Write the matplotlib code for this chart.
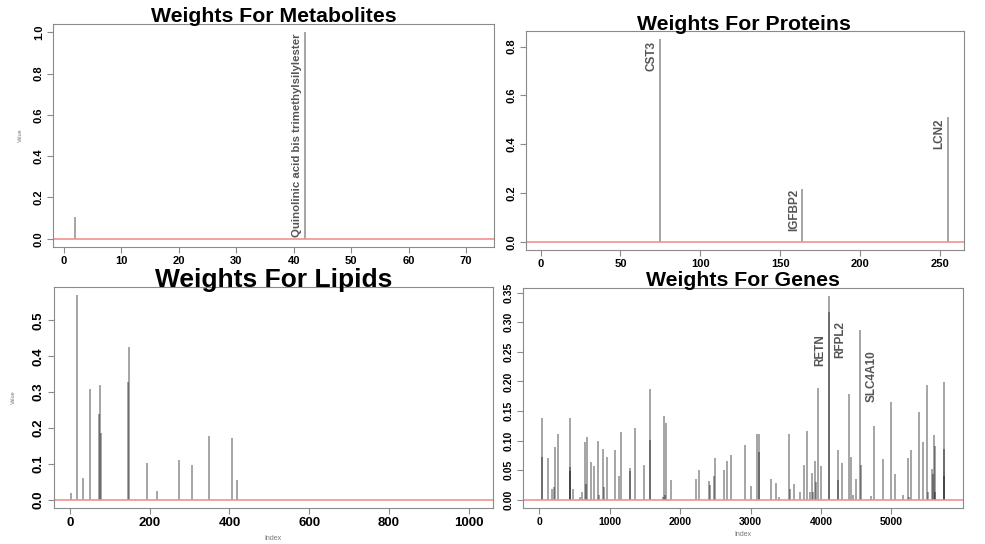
import matplotlib
matplotlib.use('Agg')
import matplotlib.pyplot as plt
from matplotlib.ticker import FormatStrFormatter

plt.rcParams['font.family'] = ['Liberation Sans', 'DejaVu Sans']
plt.rcParams['font.weight'] = 'bold'

# metabolites
met_n = 72
met_idx = [2, 42]
met_val = [0.105, 1.0]
met_labels = {42: 'Quinolinic acid bis trimethylsilylester'}

# proteins
prot_n = 255
prot_idx = [75, 164, 255]
prot_val = [0.831, 0.218, 0.511]
prot_labels = {75: 'CST3', 164: 'IGFBP2', 255: 'LCN2'}

# lipids
lip_n = 1020
lip_idx = [3, 17, 33, 51, 73, 75, 78, 147, 149, 194, 218, 273, 306, 349, 406, 419]
lip_val = [0.020, 0.570, 0.061, 0.308, 0.238, 0.321, 0.187, 0.328, 0.426,
           0.102, 0.024, 0.112, 0.096, 0.178, 0.172, 0.056]

# genes
gene_n = 5786
gene_idx = [34, 38, 119, 180, 209, 218, 266, 431, 437, 441, 484, 573, 602, 649,
            664, 678, 734, 782, 829, 843, 900, 914, 962, 1075, 1137, 1160, 1289,
            1296, 1355, 1483, 1568, 1571, 1753, 1767, 1780, 1795, 1876, 2221, 2264,
            2411, 2430, 2487, 2501, 2619, 2662, 2723, 2927, 3008, 3088, 3117, 3120,
            3292, 3358, 3401, 3543, 3557, 3623, 3699, 3765, 3807, 3840, 3879, 3893,
            3917, 3936, 3964, 3998, 4115, 4120, 4239, 4243, 4300, 4404, 4432, 4455,
            4503, 4556, 4570, 4708, 4755, 4878, 4996, 5058, 5162, 5243, 5250, 5276,
            5394, 5451, 5512, 5515, 5579, 5593, 5612, 5620, 5626, 5745, 5748, 5750]
gene_val = [0.139, 0.072, 0.070, 0.018, 0.021, 0.089, 0.111, 0.048, 0.056, 0.139,
            0.019, 0.005, 0.013, 0.097, 0.026, 0.106, 0.064, 0.058, 0.099, 0.008,
            0.086, 0.021, 0.073, 0.085, 0.040, 0.115, 0.053, 0.049, 0.122, 0.059,
            0.187, 0.101, 0.005, 0.142, 0.009, 0.130, 0.033, 0.036, 0.050, 0.031,
            0.025, 0.041, 0.070, 0.051, 0.065, 0.076, 0.093, 0.024, 0.112, 0.111,
            0.080, 0.036, 0.028, 0.005, 0.112, 0.018, 0.027, 0.013, 0.059, 0.116,
            0.013, 0.046, 0.014, 0.066, 0.030, 0.189, 0.057, 0.317, 0.344, 0.085,
            0.033, 0.063, 0.178, 0.073, 0.009, 0.035, 0.287, 0.059, 0.007, 0.125,
            0.069, 0.166, 0.044, 0.008, 0.070, 0.004, 0.085, 0.148, 0.098, 0.194,
            0.013, 0.052, 0.043, 0.110, 0.013, 0.091, 0.199, 0.086, 0.040]
gene_labels = {4115: 'RETN', 4120: 'RFPL2', 4556: 'SLC4A10'}

W, H = 985, 544
fig = plt.figure(figsize=(W / 100, H / 100), dpi=100)


def make_axes(l, t, r, b):
    return fig.add_axes([l / W, 1 - b / H, (r - l) / W, (b - t) / H])


def panel(ax, n, idx, val, xstep, ystep, yfmt, tsize):
    ax.vlines(idx, 0, val, color='black', alpha=0.45, lw=1.1)
    ax.axhline(0, color='#f49090', lw=1.2)
    pad = 0.04 * (n - 1)
    ax.set_xlim(1 - pad, n + pad)
    top = max(val) * 1.04
    ax.set_ylim(-0.04 * max(val), top)
    ax.set_xticks([i * xstep for i in range(int(n // xstep) + 1)])
    yt = [round(i * ystep, 3) for i in range(int(top / ystep + 1e-6) + 1)]
    ax.set_yticks(yt)
    ax.yaxis.set_major_formatter(FormatStrFormatter(yfmt))
    for s in ax.spines.values():
        s.set_color('#8a8a8a')
    ax.tick_params(colors='#8a8a8a', labelcolor='black', length=4, pad=2.5,
                   labelsize=tsize)
    ax.tick_params(axis='y', labelrotation=90)
    for lab in ax.get_yticklabels():
        lab.set_va('center')
        lab.set_fontweight('bold')
    for lab in ax.get_xticklabels():
        lab.set_fontweight('bold')


def add_labels(ax, idx, val, labels, size, side, shrink=1.0):
    vals = dict(zip(idx, val))
    xr = ax.get_xlim()
    off = (xr[1] - xr[0]) * 0.006
    for k, name in labels.items():
        s = side.get(k, 'left') if isinstance(side, dict) else side
        if s == 'left':
            ax.text(k - off, vals[k] * shrink, name, rotation=90, ha='right', va='top',
                    color='#555555', fontsize=size, fontweight='bold')
        else:
            ax.text(k + off * 2, vals[k] * shrink, name, rotation=90, ha='left', va='top',
                    color='#555555', fontsize=size, fontweight='bold')


ax1 = make_axes(53, 24, 494, 247)
panel(ax1, met_n, met_idx, met_val, 10, 0.2, '%.1f', 8)
add_labels(ax1, met_idx, met_val, met_labels, 8.2, 'left', 0.995)
ax1.set_ylabel('Value', fontsize=4, color='#777777', fontweight='normal', labelpad=8)

ax2 = make_axes(526, 31, 964, 250)
panel(ax2, prot_n, prot_idx, prot_val, 50, 0.2, '%.1f', 8)
add_labels(ax2, prot_idx, prot_val, prot_labels, 8.5, 'left', 0.99)

ax3 = make_axes(54, 287, 493, 508)
panel(ax3, lip_n, lip_idx, lip_val, 200, 0.1, '%.1f', 9.5)
ax3.set_ylabel('Value', fontsize=4, color='#777777', fontweight='normal', labelpad=12)

ax4 = make_axes(523, 288, 963, 508)
panel(ax4, gene_n, gene_idx, gene_val, 1000, 0.05, '%.2f', 7.5)
add_labels(ax4, gene_idx, gene_val, gene_labels, 8.5,
           {4115: 'left', 4120: 'right', 4556: 'right'}, 0.88)

fig.text(273, H - 539, 'Index', fontsize=5, color='#777777', ha='center', va='center',
         fontweight='normal', transform=None)
fig.text(743, H - 534, 'Index', fontsize=5, color='#777777', ha='center', va='center',
         fontweight='normal', transform=None)

fig.text(274, H - 17, 'Weights For Metabolites', fontsize=15.3, fontweight='bold',
         ha='center', va='center', transform=None)
fig.text(744, H - 24, 'Weights For Proteins', fontsize=15.3, fontweight='bold',
         ha='center', va='center', transform=None)
fig.text(274, H - 279.5, 'Weights For Lipids', fontsize=19, fontweight='bold',
         ha='center', va='center', transform=None)
fig.text(743, H - 281, 'Weights For Genes', fontsize=15.3, fontweight='bold',
         ha='center', va='center', transform=None)

fig.savefig('out.png', dpi=100)
